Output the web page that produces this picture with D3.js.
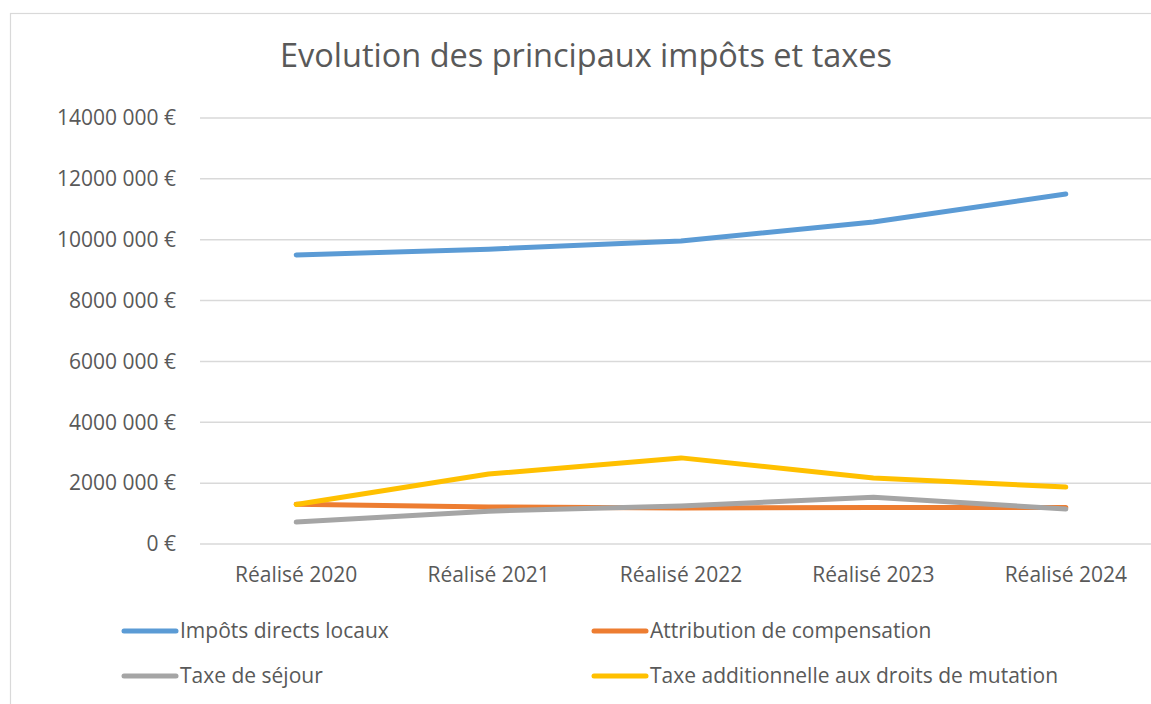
<!DOCTYPE html>
<html>
<head>
<meta charset="utf-8">
<script src="https://cdn.jsdelivr.net/npm/d3@7"></script>
<style>
  body { margin: 0; background: #fff; }
  svg { display: block; font-family: "Open Sans", sans-serif; }
</style>
</head>
<body>
<svg id="chart" width="1151" height="704"></svg>
<script>
// Data
var categories = ["Réalisé 2020", "Réalisé 2021", "Réalisé 2022", "Réalisé 2023", "Réalisé 2024"];
var seriesNames = ["Impôts directs locaux", "Attribution de compensation", "Taxe de séjour", "Taxe additionnelle aux droits de mutation"];
var seriesColors = ["#5B9BD5", "#ED7D31", "#A5A5A5", "#FFC000"];
var impotsDirects = [9500000, 9690000, 9960000, 10580000, 11500000];
var attribution = [1310000, 1220000, 1180000, 1200000, 1200000];
var taxeSejour = [720000, 1080000, 1250000, 1540000, 1150000];
var taxeMutation = [1300000, 2300000, 2830000, 2170000, 1870000];
var yTicks = [0, 2000000, 4000000, 6000000, 8000000, 10000000, 12000000, 14000000];

var allSeries = [impotsDirects, attribution, taxeSejour, taxeMutation];

var svg = d3.select("#chart");
var textColor = "#595959";
var fontFam = "'Open Sans', sans-serif";

// Chart border
svg.append("rect")
  .attr("x", 10.5).attr("y", 13.5)
  .attr("width", 1200).attr("height", 720)
  .style("fill", "none").style("stroke", "#d9d9d9").style("stroke-width", 1.2);

// Title
svg.append("text")
  .attr("x", 586).attr("y", 67)
  .style("text-anchor", "middle")
  .style("font-size", "32.5px")
  .style("fill", textColor)
  .text("Evolution des principaux impôts et taxes");

// Scales
var x = d3.scaleBand().domain(categories).range([200, 1162]);
var y = d3.scaleLinear().domain([0, 14000000]).range([544, 118]);

function fmtEuro(v) {
  if (v === 0) return "0 €";
  var m = Math.round(v / 1000000);
  return m + "000 000 €";
}

// Gridlines
svg.append("g")
  .selectAll("line")
  .data(yTicks)
  .enter()
  .append("line")
  .attr("x1", 200).attr("x2", 1162)
  .attr("y1", function (d) { return y(d); })
  .attr("y2", function (d) { return y(d); })
  .style("stroke", "#d9d9d9").style("stroke-width", 1.5);

// Y axis labels
var yAxis = svg.append("g")
  .attr("transform", "translate(200,0)")
  .call(d3.axisLeft(y).tickValues(yTicks).tickFormat(fmtEuro).tickSize(0).tickPadding(24));
yAxis.select(".domain").remove();
yAxis.selectAll("text")
  .style("font-family", fontFam)
  .style("font-size", "21px")
  .style("fill", textColor);

// X axis labels
var xAxis = svg.append("g")
  .attr("transform", "translate(0,544)")
  .call(d3.axisBottom(x).tickSize(0).tickPadding(23));
xAxis.select(".domain").remove();
xAxis.selectAll("text")
  .style("font-family", fontFam)
  .style("font-size", "21px")
  .style("fill", textColor);

// Lines
var line = d3.line()
  .x(function (d, i) { return x(categories[i]) + x.bandwidth() / 2; })
  .y(function (d) { return y(d); });

svg.append("g")
  .selectAll("path")
  .data(allSeries)
  .enter()
  .append("path")
  .attr("d", line)
  .style("fill", "none")
  .style("stroke", function (d, i) { return seriesColors[i]; })
  .style("stroke-width", 5)
  .style("stroke-linecap", "round")
  .style("stroke-linejoin", "round");

// Legend
var legendPos = [[122, 631], [592, 631], [122, 676], [592, 676]];
var legend = svg.append("g")
  .selectAll("g")
  .data(seriesNames)
  .enter()
  .append("g")
  .attr("transform", function (d, i) { return "translate(" + legendPos[i][0] + "," + legendPos[i][1] + ")"; });

legend.append("line")
  .attr("x1", 2).attr("x2", 54)
  .attr("y1", 0).attr("y2", 0)
  .style("stroke", function (d, i) { return seriesColors[i]; })
  .style("stroke-width", 5)
  .style("stroke-linecap", "round");

legend.append("text")
  .attr("x", 58).attr("y", 0)
  .attr("dy", "0.35em")
  .style("font-size", "21px")
  .style("fill", textColor)
  .text(function (d) { return d; });
</script>
</body>
</html>
